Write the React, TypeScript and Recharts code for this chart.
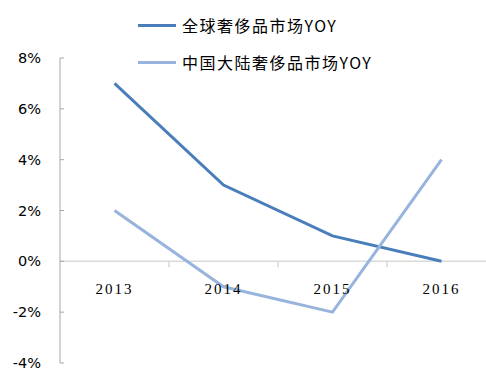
import React from "react"
import { LineChart, Line, XAxis, YAxis, ReferenceLine } from "recharts"

const years = ["2013", "2014", "2015", "2016"]
const globalYoy = [7, 3, 1, 0]
const chinaYoy = [2, -1, -2, 4]
const yTicks = [-4, -2, 0, 2, 4, 6, 8]

const seriesNames = ["全球奢侈品市场YOY", "中国大陆奢侈品市场YOY"]
const seriesColors = ["#4A7EBB", "#97B4DC"]

const data = years.map((y, i) => ({ year: y, global: globalYoy[i], china: chinaYoy[i] }))

const W = 496
const H = 382
const xAxisHeight = 1
const margin = { top: 58, right: 0, bottom: 18, left: 0 }
const yAxisWidth = 60
const plotH = H - margin.top - margin.bottom - xAxisHeight
const plotW = W - margin.left - margin.right - yAxisWidth
const yMin = yTicks[0]
const yMax = yTicks[yTicks.length - 1]

// category labels sit under the zero line, not at the bottom of the plot
const YearTick = (props: any) => {
  const { x, y, payload, index } = props
  const zeroY = y - (plotH * (0 - yMin)) / (yMax - yMin)
  const band = plotW / years.length
  return (
    <g>
      {index < years.length - 1 && (
        <line x1={x + band / 2} x2={x + band / 2} y1={zeroY} y2={zeroY + 6} stroke="#D9D9D9" strokeWidth={1.5} />
      )}
      <text
        x={x}
        y={zeroY + 33}
        textAnchor="middle"
        fontFamily="'Liberation Serif', serif"
        fontSize={15}
        letterSpacing={2}
        fill="#000"
      >
        {payload.value}
      </text>
    </g>
  )
}

export default function App() {
  return (
    <div style={{ position: "fixed", left: 0, top: 0, width: 486, height: 382, overflow: "hidden", background: "#fff" }}>
      <LineChart width={W} height={H} data={data} margin={margin}>
        <ReferenceLine y={0} stroke="#D9D9D9" strokeWidth={1.5} />
        <XAxis
          dataKey="year"
          scale="band"
          height={xAxisHeight}
          axisLine={false}
          tickLine={false}
          tickSize={0}
          tickMargin={0}
          tick={<YearTick />}
          interval={0}
        />
        <YAxis
          width={yAxisWidth}
          domain={[yMin, yMax]}
          ticks={yTicks}
          tickFormatter={(v: number) => `${v}%`}
          axisLine={{ stroke: "#A6A6A6" }}
          tickLine={{ stroke: "#A6A6A6" }}
          tickSize={-4}
          tickMargin={23}
          tick={{ fontFamily: "'DejaVu Sans', sans-serif", fontSize: 14.5, fill: "#000" }}
          interval={0}
        />
        <Line dataKey="global" stroke={seriesColors[0]} strokeWidth={3} dot={false} isAnimationActive={false} />
        <Line dataKey="china" stroke={seriesColors[1]} strokeWidth={3} dot={false} isAnimationActive={false} />
      </LineChart>
      {seriesNames.map((name, i) => (
        <div
          key={name}
          style={{ position: "absolute", left: 138, top: 14 + i * 37, display: "flex", alignItems: "center", height: 22 }}
        >
          <div style={{ width: 38, height: 3, background: seriesColors[i], marginRight: 6 }} />
          <span
            style={{
              fontFamily: "'Noto Sans CJK SC', 'Liberation Serif', serif",
              fontSize: 16,
              letterSpacing: 1.5,
              color: "#000",
              whiteSpace: "nowrap",
            }}
          >
            {name}
          </span>
        </div>
      ))}
    </div>
  )
}
